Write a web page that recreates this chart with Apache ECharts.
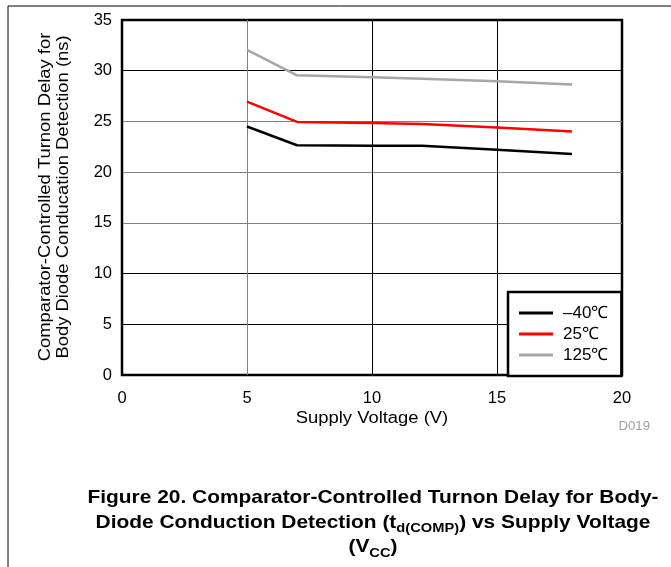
<!DOCTYPE html>
<html>
<head>
<meta charset="utf-8">
<script src="https://cdn.jsdelivr.net/npm/echarts@6/dist/echarts.min.js"></script>
<style>
  html, body { margin: 0; padding: 0; background: #fff; }
</style>
</head>
<body>
<div id="chart" style="width: 671px; height: 567px"></div>
<script>
const voltage = [5, 7, 10, 12, 15, 18]
const seriesNames = ['–40℃', '25℃', '125℃']
const minus40 = [24.5, 22.65, 22.6, 22.6, 22.2, 21.8]
const plus25 = [26.95, 24.95, 24.85, 24.75, 24.4, 24.0]
const plus125 = [32.05, 29.55, 29.35, 29.2, 28.95, 28.65]
const xTicks = [0, 5, 10, 15, 20]
const yTicks = [0, 5, 10, 15, 20, 25, 30, 35]

const font = '"Liberation Sans", Arial, sans-serif'
const lineColors = ['#000000', '#ff0000', '#a6a6a6']

function pairs(ys) {
  return voltage.map((x, i) => [x, ys[i]])
}

const chart = echarts.init(document.getElementById('chart'))

const option = {
  animation: false,
  backgroundColor: '#fff',
  textStyle: { fontFamily: font },
  grid: {
    left: 122,
    right: 49,
    top: 20,
    bottom: 192,
    show: true,
    borderColor: '#000',
    borderWidth: 2.5,
    backgroundColor: 'transparent',
  },
  legend: {
    orient: 'vertical',
    left: 508,
    top: 292,
    padding: [12, 13, 12, 11],
    itemGap: 3,
    itemWidth: 34,
    itemHeight: 3,
    icon: 'rect',
    backgroundColor: '#fff',
    borderColor: '#000',
    borderWidth: 2.5,
    borderRadius: 0,
    textStyle: {
      fontSize: 17,
      color: '#000',
      lineHeight: 18,
      fontFamily: font,
      padding: [0, 0, 0, 5],
    },
    data: seriesNames,
  },
  xAxis: {
    type: 'value',
    min: xTicks[0],
    max: xTicks[xTicks.length - 1],
    interval: 5,
    axisLine: { show: false },
    axisTick: { show: false },
    axisLabel: { fontSize: 16.5, color: '#000', margin: 15, fontFamily: font },
    splitLine: {
      show: true,
      lineStyle: { width: 1, color: ['#000', '#808080', '#000', '#000', '#000'] },
    },
  },
  yAxis: {
    type: 'value',
    min: yTicks[0],
    max: yTicks[yTicks.length - 1],
    interval: 5,
    axisLine: { show: false },
    axisTick: { show: false },
    axisLabel: { fontSize: 16.5, color: '#000', margin: 10, fontFamily: font },
    splitLine: {
      show: true,
      lineStyle: {
        width: 1,
        color: ['#000', '#000', '#000', '#808080', '#808080', '#808080', '#000', '#000'],
      },
    },
  },
  series: [minus40, plus25, plus125].map((ys, i) => ({
    name: seriesNames[i],
    type: 'line',
    data: pairs(ys),
    symbol: 'none',
    color: lineColors[i],
    lineStyle: { width: 2.5, color: lineColors[i] },
    z: 3 - i,
  })),
  graphic: [
    // frame lines of the figure
    { type: 'line', shape: { x1: 8, y1: 6, x2: 671, y2: 6 }, style: { stroke: '#000', lineWidth: 1 } },
    { type: 'line', shape: { x1: 8, y1: 6, x2: 8, y2: 567 }, style: { stroke: '#000', lineWidth: 1 } },
    {
      type: 'text',
      x: 55,
      y: 197,
      rotation: Math.PI / 2,
      scaleX: 1.15,
      style: {
        text: 'Comparator-Controlled Turnon Delay for\nBody Diode Conducation Detection (ns)',
        font: '16px ' + font,
        fill: '#000',
        align: 'center',
        verticalAlign: 'middle',
        lineHeight: 18,
      },
    },
    {
      type: 'text',
      x: 372,
      y: 419,
      scaleX: 1.15,
      style: {
        text: 'Supply Voltage (V)',
        font: '16px ' + font,
        fill: '#000',
        align: 'center',
        verticalAlign: 'middle',
      },
    },
    {
      type: 'text',
      x: 650,
      y: 427,
      scaleX: 1.1,
      style: {
        text: 'D019',
        font: '12px ' + font,
        fill: '#a0a0a0',
        align: 'right',
        verticalAlign: 'middle',
      },
    },
    {
      type: 'text',
      x: 373,
      y: 486,
      scaleX: 1.13,
      style: {
        text: '{b|Figure 20. Comparator-Controlled Turnon Delay for Body-}\n' +
          '{b|Diode Conduction Detection (t}{s|d(COMP)}{b|) vs Supply Voltage}\n' +
          '{b|(V}{s|CC}{b|)}',
        align: 'center',
        verticalAlign: 'top',
        fill: '#000',
        rich: {
          b: { font: 'bold 18.5px ' + font, fill: '#000', lineHeight: 24.5 },
          s: { font: 'bold 13px ' + font, fill: '#000', lineHeight: 13, verticalAlign: 'bottom' },
        },
      },
    },
  ],
}

chart.setOption(option)
</script>
</body>
</html>
